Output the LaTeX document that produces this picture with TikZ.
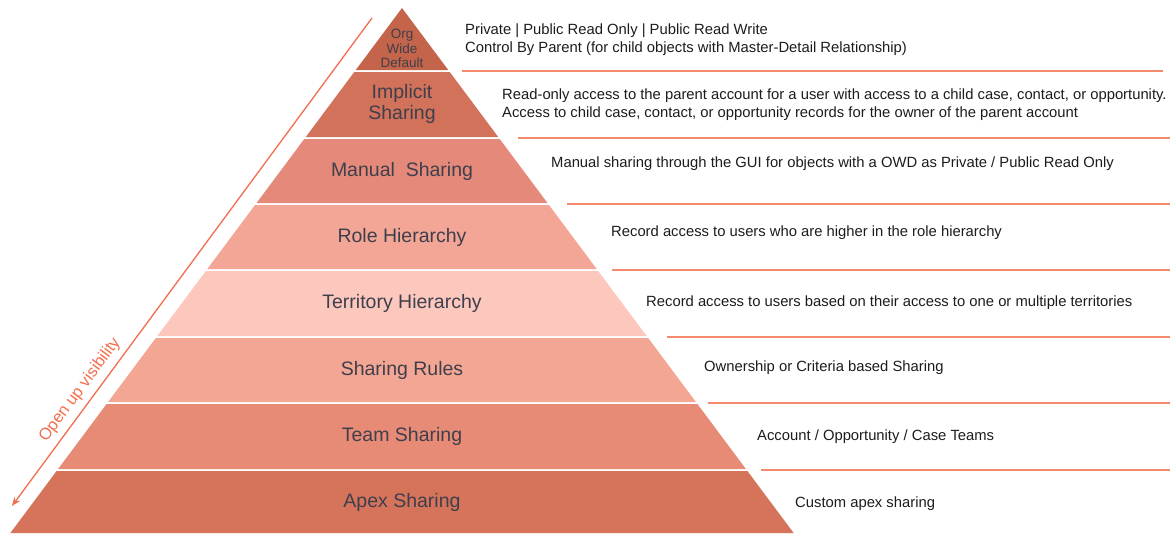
\documentclass[tikz,border=0pt]{standalone}
\usepackage{fontspec}
\setmainfont{Liberation Sans}
\usetikzlibrary{arrows.meta}
\definecolor{bOrg}{HTML}{C4654B}
\definecolor{bImp}{HTML}{D2725A}
\definecolor{bMan}{HTML}{E5897A}
\definecolor{bRole}{HTML}{F3A696}
\definecolor{bTer}{HTML}{FCC8BE}
\definecolor{bRule}{HTML}{F4A694}
\definecolor{bTeam}{HTML}{E88B76}
\definecolor{bApex}{HTML}{D5745B}
\definecolor{sepline}{HTML}{F48A6E}
\definecolor{arrowc}{HTML}{F26D4D}
\definecolor{lbl}{HTML}{3F3F4C}
\definecolor{desc}{HTML}{1C1C1C}
\tikzset{
  bandlabel/.style={text=lbl, font=\fontsize{19.5}{21}\selectfont, align=center, inner sep=0pt},
  desclabel/.style={text=desc, font=\fontsize{14.8}{18}\selectfont, align=left, anchor=west, inner sep=0pt},
  sepl/.style={draw=sepline, line width=1.8pt},
}
\begin{document}
\begin{tikzpicture}[x=1pt,y=-1pt]
\useasboundingbox (0,0) rectangle (1173,533);
% bands
\foreach \t/\b/\c in {8/70/bOrg,72/137/bImp,139/203/bMan,205/269/bRole,271/336/bTer,338/402/bRule,404/469/bTeam,471/533/bApex}{
  \fill[\c] ({402-0.746*(\t-8)},\t) -- ({402+0.746*(\t-8)},\t) -- ({402+0.746*(\b-8)},\b) -- ({402-0.746*(\b-8)},\b) -- cycle;
}
% band labels
\node[bandlabel, font=\fontsize{13.5}{14.3}\selectfont] (org) at (402,48.5) {Org\\Wide\\Default};
\node[bandlabel] (imp) at (402,104) {Implicit\\Sharing};
\node[bandlabel] (man) at (402,171) {Manual\ \ Sharing};
\node[bandlabel] (role) at (402,237) {Role Hierarchy};
\node[bandlabel] (ter) at (402,303) {Territory Hierarchy};
\node[bandlabel] (rule) at (402,370) {Sharing Rules};
\node[bandlabel] (team) at (402,436) {Team Sharing};
\node[bandlabel] (apex) at (402,502) {Apex Sharing};
% separator lines
\coordinate (s1a) at (462,71);  \coordinate (s1b) at (1163,71);
\coordinate (s2a) at (518,138); \coordinate (s2b) at (1170,138);
\coordinate (s3a) at (567,204); \coordinate (s3b) at (1170,204);
\coordinate (s4a) at (612,270); \coordinate (s4b) at (1170,270);
\coordinate (s5a) at (667,337); \coordinate (s5b) at (1170,337);
\coordinate (s6a) at (708,403); \coordinate (s6b) at (1170,403);
\coordinate (s7a) at (761,470); \coordinate (s7b) at (1170,470);
\foreach \i in {1,...,7}{ \draw[sepl] (s\i a) -- (s\i b); }
% descriptions
\node[desclabel] (d1) at (465,40) {Private | Public Read Only | Public Read Write\\Control By Parent (for child objects with Master-Detail Relationship)};
\node[desclabel] (d2) at (502,105) {Read-only access to the parent account for a user with access to a child case, contact, or opportunity.\\Access to child case, contact, or opportunity records for the owner of the parent account};
\node[desclabel] (d3) at (551,164) {Manual sharing through the GUI for objects with a OWD as Private / Public Read Only};
\node[desclabel] (d4) at (611,233) {Record access to users who are higher in the role hierarchy};
\node[desclabel] (d5) at (646,303) {Record access to users based on their access to one or multiple territories};
\node[desclabel] (d6) at (704,368) {Ownership or Criteria based Sharing};
\node[desclabel] (d7) at (757,437) {Account / Opportunity / Case Teams};
\node[desclabel] (d8) at (795,504) {Custom apex sharing};
% arrow
\coordinate (atop) at (372,18);
\coordinate (abot) at (12,506);
\draw[arrowc, line width=1.3pt, -{Stealth[length=9pt,width=7pt]}] (atop) -- (abot);
\node[text=arrowc, font=\fontsize{16.5}{18}\selectfont, rotate=53.5, inner sep=0pt] (vis) at (80,390) {Open up visibility};
\end{tikzpicture}
\end{document}
